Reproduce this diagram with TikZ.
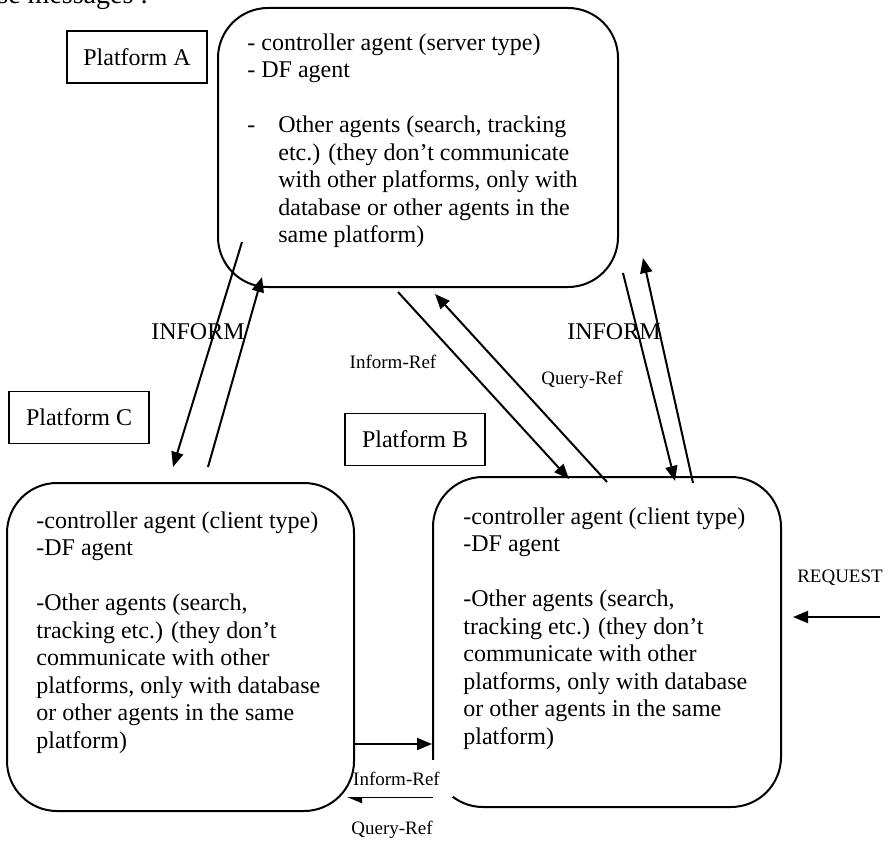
\documentclass[tikz,border=0pt]{standalone}
\usepackage{fontspec}
\setmainfont{Liberation Serif}
\usetikzlibrary{arrows.meta}

\begin{document}
\begin{tikzpicture}[x=0.5pt,y=-0.5pt,
    platbox/.style={draw,line width=1pt,rounded corners=25pt,inner sep=0pt},
    tagbox/.style={draw,line width=0.9pt,minimum width=70pt,minimum height=26pt,inner sep=0pt,font=\fontsize{12}{14}\selectfont},
    body/.style={anchor=north west,inner sep=0pt,align=left,font=\fontsize{12}{13.75}\selectfont},
    msg/.style={inner sep=0pt,font=\fontsize{12}{14}\selectfont},
    small/.style={inner sep=0pt,font=\fontsize{9.5}{11}\selectfont},
    arr/.style={-{Triangle[length=7.5pt,width=6pt]},line width=1pt}]
  \useasboundingbox (0,0) rectangle (893,840);
  \node[anchor=base west,inner sep=0pt,font=\fontsize{14}{16}\selectfont] (head) at (-3,4) {se messages :};

  % platforms
  \node[platbox,minimum width=200pt,minimum height=139.5pt] (pA) at (418,147.5) {};
  \node[platbox,minimum width=174pt,minimum height=165pt] (pB) at (607,642) {};
  \node[tagbox] (tA) at (137,57) {Platform A};
  \node[tagbox] (tB) at (415,439.5) {Platform B};
  \node[tagbox] (tC) at (79,417.5) {Platform C};

  \node[body] (txtA) at (247,33) {- controller agent (server type)\\
    - DF agent\\[13.75pt]
    \makebox[15.5pt][l]{-}Other agents (search, tracking\\
    \hspace*{15.5pt}etc.) (they don’t communicate\\
    \hspace*{15.5pt}with other platforms, only with\\
    \hspace*{15.5pt}database or other agents in the\\
    \hspace*{15.5pt}same platform)};
  \node[body] (txtB) at (463,507) {-controller agent (client type)\\
    -DF agent\\[13.75pt]
    -Other agents (search,\\
    tracking etc.) (they don’t\\
    communicate with other\\
    platforms, only with database\\
    or other agents in the same\\
    platform)};
  \node[body] (txtC) at (36,511) {-controller agent (client type)\\
    -DF agent\\[13.75pt]
    -Other agents (search,\\
    tracking etc.) (they don’t\\
    communicate with other\\
    platforms, only with database\\
    or other agents in the same\\
    platform)};

  % arrow ends
  \coordinate (ac1) at (242,242);  \coordinate (ca1) at (173,467);
  \coordinate (ca2) at (208,467);  \coordinate (ac2) at (262,277);
  \coordinate (ab1) at (398,292);  \coordinate (ba1) at (569,479);
  \coordinate (ba2) at (607,482);  \coordinate (ab2) at (435,294);
  \coordinate (ab3) at (623,273);  \coordinate (ba3) at (675,481);
  \coordinate (ba4) at (693,483);  \coordinate (ab4) at (643,258);
  \coordinate (cb1) at (355,744);  \coordinate (bc1) at (432,744);
  \coordinate (bc2) at (433,797);  \coordinate (cb2) at (347,797);
  \coordinate (req) at (880,617);  \coordinate (reqB) at (793,617);

  \draw[arr] (ac1) -- (ca1);
  \draw[arr] (ca2) -- (ac2);
  \draw[arr] (ab1) -- (ba1);
  \draw[arr] (ba2) -- (ab2);
  \draw[arr] (ab3) -- (ba3);
  \draw[arr] (ba4) -- (ab4);
  \draw[arr] (cb1) -- (bc1);
  \draw[arr] (bc2) -- (cb2);
  \draw[arr] (req) -- (reqB);

  \node[msg] (infL) at (198,332) {INFORM};
  \node[msg] (infR) at (614,332) {INFORM};
  \node[small] (irTop) at (393,362) {Inform-Ref};
  \node[small] (qrTop) at (582,380) {Query-Ref};
  \node[small] (reqT) at (840,578) {REQUEST};
  \node[small,fill=white,minimum width=56.5pt,minimum height=18.5pt] (irBot) at (396.5,778.5) {Inform-Ref};
  \node[small] (qrBot) at (392,830) {Query-Ref};

  % drawn last, over the label
  \node[platbox,minimum width=173.5pt,minimum height=164pt] (pC) at (180.5,647) {};
\end{tikzpicture}
\end{document}
